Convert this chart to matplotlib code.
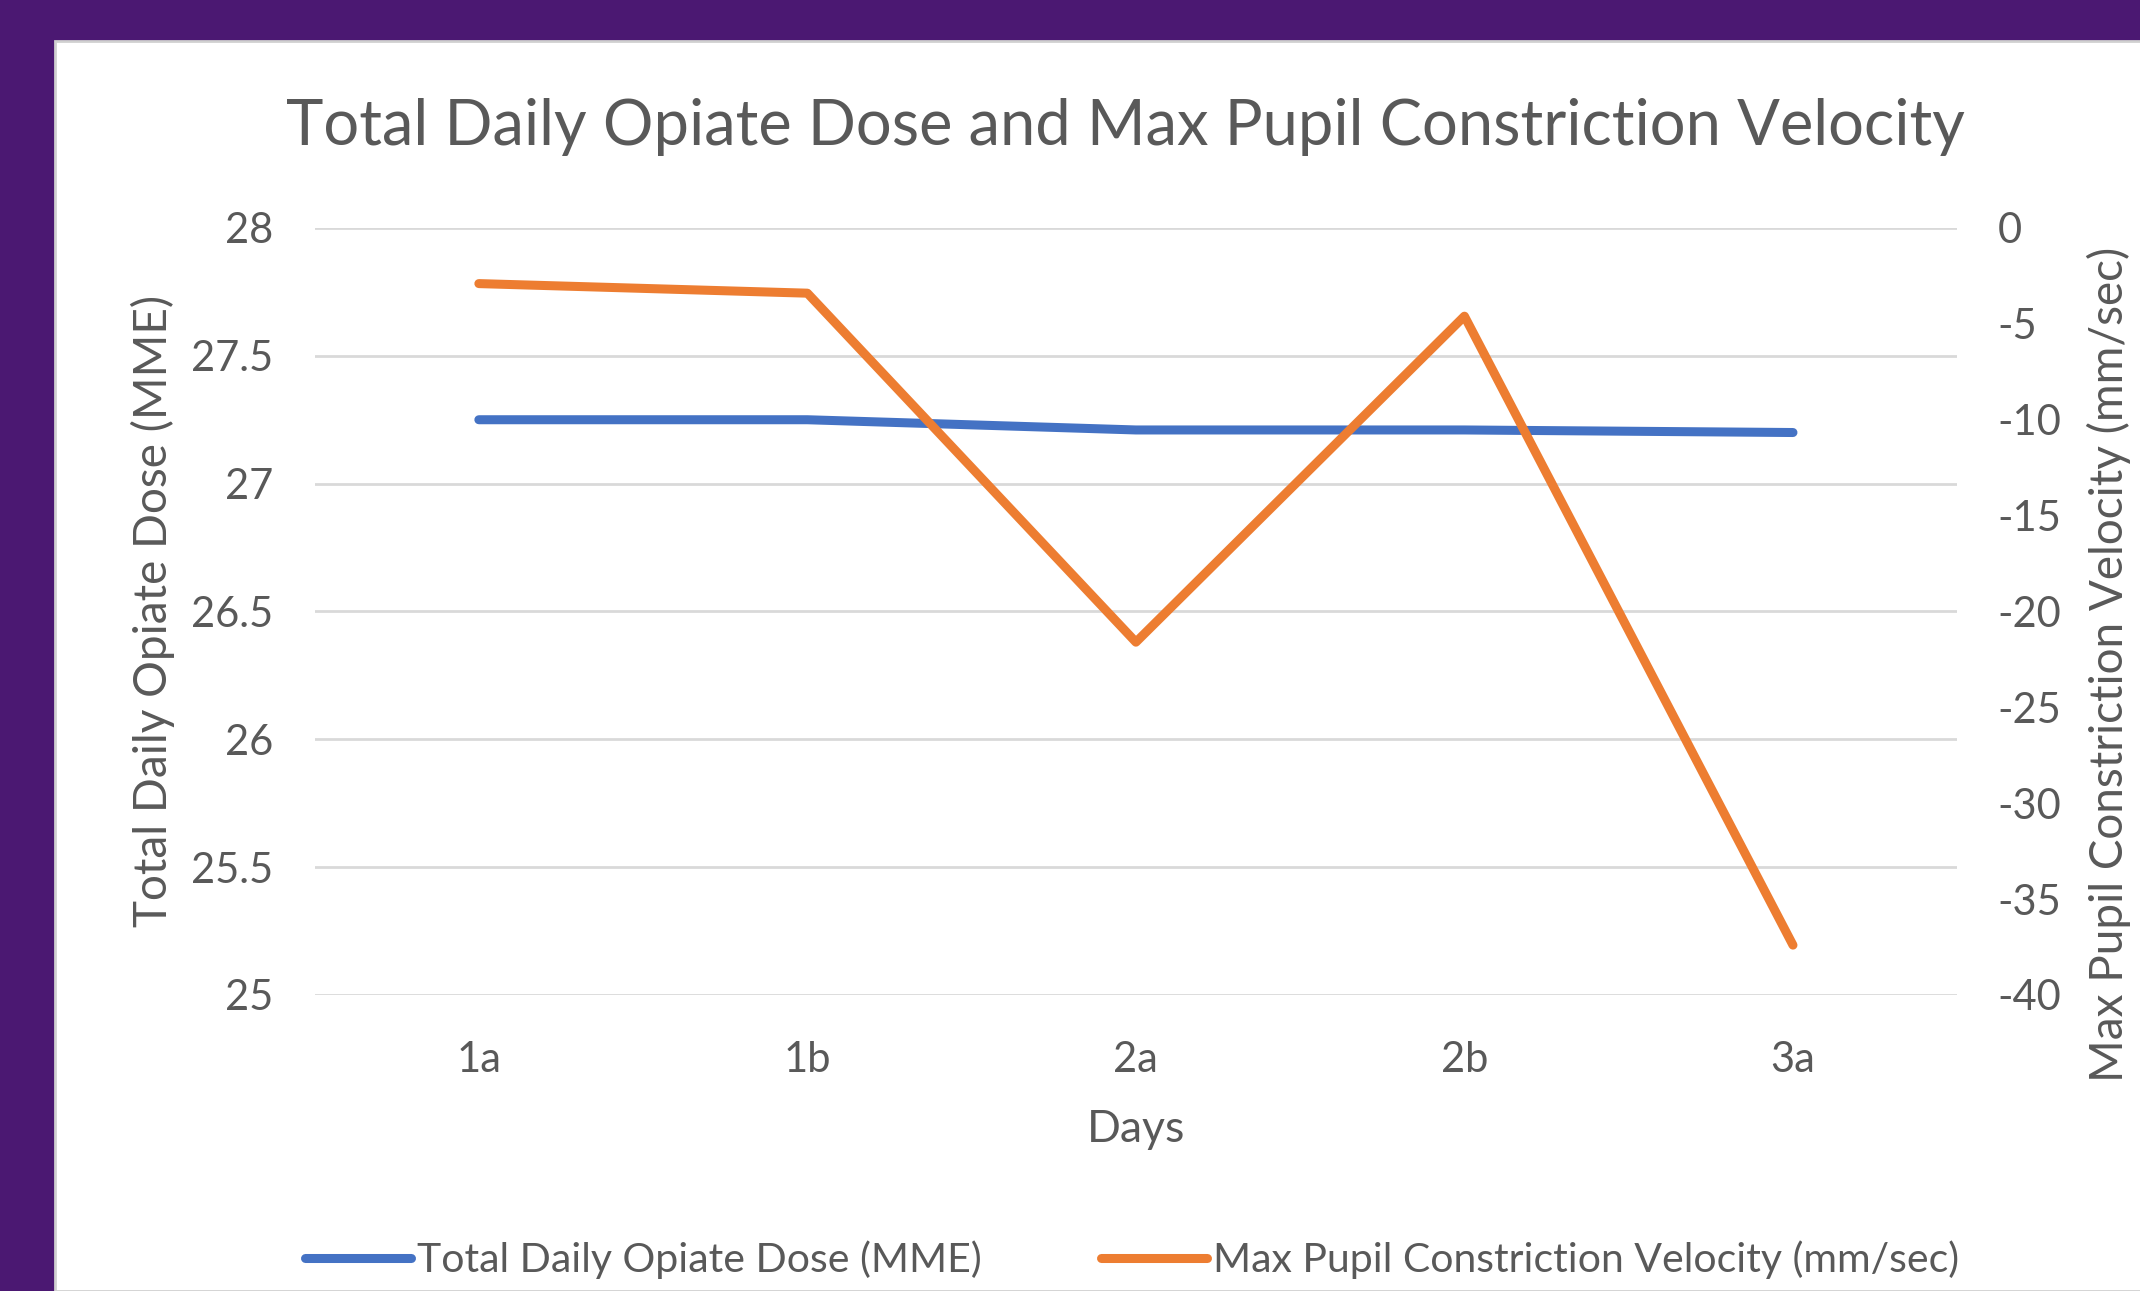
import matplotlib
matplotlib.use('Agg')
import matplotlib.pyplot as plt
from matplotlib.patches import Rectangle

# data
days = ['1a', '1b', '2a', '2b', '3a']
dose = [27.25, 27.25, 27.21, 27.21, 27.20]
velocity = [-2.9, -3.4, -21.6, -4.6, -37.4]

blue = '#4472C4'
orange = '#ED7D31'
grey_text = '#595959'
grid_col = '#D9D9D9'
purple = '#4B1872'

plt.rcParams['font.family'] = ['Lato', 'DejaVu Sans']
plt.rcParams['axes.unicode_minus'] = False

fig = plt.figure(figsize=(21.4, 12.91), dpi=100)
fig.patch.set_facecolor(purple)
# white chart panel inside the purple frame
fig.patches.append(Rectangle((55 / 2140, 0), 1, 1 - 41 / 1291, transform=fig.transFigure,
                             facecolor='white', edgecolor='#D0D0D0', linewidth=2, zorder=-10))

ax = fig.add_axes([0.147, 0.2293, 0.7676, 0.5941])
ax.set_facecolor('none')
x = range(len(days))
l1, = ax.plot(x, dose, color=blue, lw=6.5, solid_capstyle='round', label='Total Daily Opiate Dose (MME)', zorder=3)
ax.set_ylim(25, 28)
ax.set_yticks([25, 25.5, 26, 26.5, 27, 27.5, 28])
ax.set_yticklabels(['25', '25.5', '26', '26.5', '27', '27.5', '28'])
ax.set_xlim(-0.5, 4.5)
ax.set_xticks(list(x))
ax.set_xticklabels(days)
ax.grid(axis='y', color=grid_col, lw=2)
ax.set_axisbelow(True)

ax2 = ax.twinx()
l2, = ax2.plot(x, velocity, color=orange, lw=6.5, solid_capstyle='round', label='Max Pupil Constriction Velocity (mm/sec)', zorder=3)
ax2.set_ylim(-40, 0)
ax2.set_yticks(range(-40, 1, 5))

for a in (ax, ax2):
    for s in a.spines.values():
        s.set_visible(False)
    a.tick_params(length=0, labelsize=30, labelcolor=grey_text)
ax.tick_params(axis='y', pad=30)
ax.tick_params(axis='x', pad=33)
ax2.tick_params(axis='y', pad=29)

fig.text(0.5257, 0.902, 'Total Daily Opiate Dose and Max Pupil Constriction Velocity',
         ha='center', va='center', fontsize=45.5, color=grey_text)
fig.text(0.0715, 0.527, 'Total Daily Opiate Dose (MME)', rotation=90,
         ha='center', va='center', fontsize=33, color=grey_text)
fig.text(0.9855, 0.485, 'Max Pupil Constriction Velocity (mm/sec)', rotation=90,
         ha='center', va='center', fontsize=33, color=grey_text)
fig.text(0.531, 0.125, 'Days', ha='center', va='center', fontsize=32, color=grey_text)

fig.legend(handles=[l1, l2], loc='center', bbox_to_anchor=(0.529, 0.024), ncol=2,
           frameon=False, fontsize=29.5, labelcolor=grey_text, handlelength=2.6,
           handletextpad=0.15, columnspacing=2.9)

fig.savefig('out.png', dpi=100, facecolor=fig.get_facecolor())
